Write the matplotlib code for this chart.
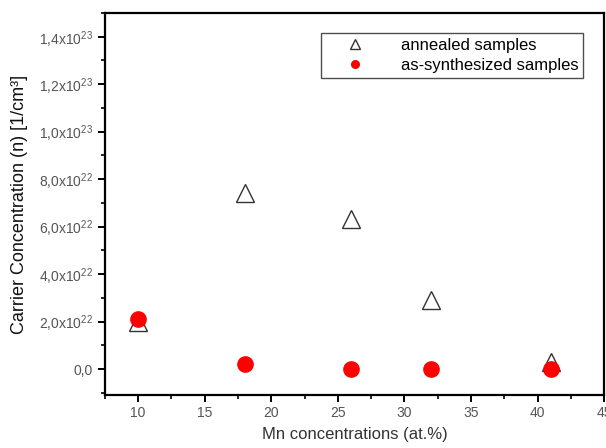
import numpy as np
import matplotlib.pyplot as plt
from matplotlib.ticker import FixedLocator, MultipleLocator

plt.rcParams['font.family'] = ['Liberation Sans', 'DejaVu Sans']
plt.rcParams['mathtext.fontset'] = 'custom'
plt.rcParams['mathtext.rm'] = 'Liberation Sans'

mn = [10, 18, 26, 32, 41]
annealed = [2.0e22, 7.4e22, 6.3e22, 2.9e22, 3.0e21]
synth = [2.1e22, 2.0e21, 0.0, 0.0, 0.0]

ytick_vals = [0, 2e22, 4e22, 6e22, 8e22, 1.0e23, 1.2e23, 1.4e23]
ytick_text = ['0,0', r'2,0x10$^{22}$', r'4,0x10$^{22}$', r'6,0x10$^{22}$', r'8,0x10$^{22}$',
              r'1,0x10$^{23}$', r'1,2x10$^{23}$', r'1,4x10$^{23}$']

fig = plt.figure(figsize=(6.06, 4.48), dpi=100)
ax = fig.add_axes([0.173, 0.118, 0.824, 0.853])

ax.plot(mn, annealed, linestyle='none', marker='^', ms=13, mfc='white', mec='#333333',
        mew=1.0, label='annealed samples', zorder=2)
ax.plot(mn, synth, linestyle='none', marker='o', ms=11, color='red',
        label='as-synthesized samples', zorder=3)

ax.set_xlim(7.5, 45)
ax.set_ylim(-1.1e22, 1.5e23)
ax.xaxis.set_major_locator(FixedLocator([10, 15, 20, 25, 30, 35, 40, 45]))
ax.xaxis.set_minor_locator(MultipleLocator(2.5))
ax.yaxis.set_major_locator(FixedLocator(ytick_vals))
ax.yaxis.set_minor_locator(MultipleLocator(1e22))
ax.set_yticklabels(ytick_text)

for s in ax.spines.values():
    s.set_linewidth(1.6)
ax.tick_params(which='major', direction='out', length=5, width=1.4, labelsize=10,
               labelcolor='#555555')
ax.tick_params(axis='x', pad=3)
ax.tick_params(which='minor', direction='out', length=3, width=1.2)

ax.set_xlabel('Mn concentrations (at.%)', fontsize=12, color='#333333', labelpad=5)
ax.set_ylabel('Carrier Concentration (n) [1/cm³]', fontsize=13, color='#111111', labelpad=8)

leg = ax.legend(loc='upper right', bbox_to_anchor=(0.975, 0.97), fontsize=12,
                markerscale=0.5, frameon=True, fancybox=False, edgecolor='#222222',
                handletextpad=1.0, borderpad=0.3, labelspacing=0.3, handlelength=3.5)
leg.get_frame().set_linewidth(1.0)

fig.savefig('out.png', dpi=100)
